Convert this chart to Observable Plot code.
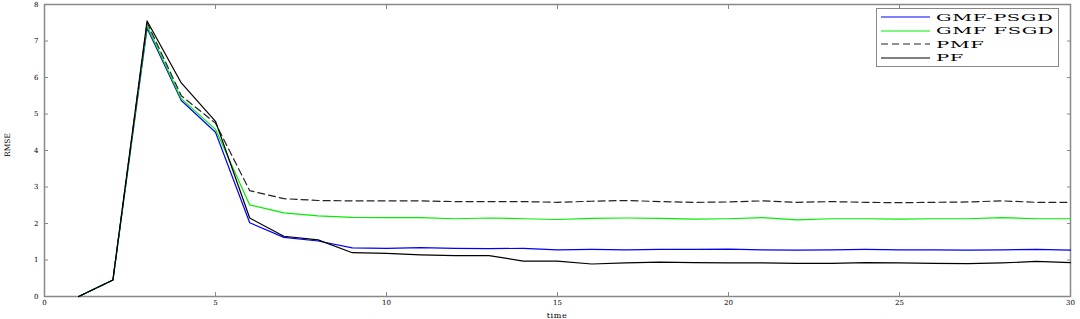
<!DOCTYPE html>
<html>
<head>
<meta charset="utf-8">
<script src="https://cdn.jsdelivr.net/npm/d3@7"></script>
<script src="https://cdn.jsdelivr.net/npm/@observablehq/plot@0.6"></script>
<style>
  body { margin: 0; background: #fff; }
  #wrap { position: relative; width: 1080px; height: 319px; }
  #legend { position: absolute; left: 876px; top: 8px; width: 181px; height: 57px;
    border: 1px solid #888; background: #fff; font-family: "DejaVu Serif", serif; font-size: 10px; }
  .row { position: absolute; left: 4px; height: 14px; display: flex; align-items: center; }
  .row svg { display: block; }
  .row span { display: inline-block; transform: scaleX(1.95); transform-origin: left center; margin-left: 5px; letter-spacing: 0.3px; color: #000; }
</style>
</head>
<body>
<div id="wrap"></div>
<script>
const time = d3.range(1, 31);
const seriesNames = ["GMF-PSGD", "GMF FSGD", "PMF", "PF"];
const gmfPsgd = [0, 0.45, 7.35, 5.37, 4.5, 2.02, 1.62, 1.52, 1.33, 1.32, 1.34, 1.32, 1.31, 1.32, 1.28, 1.29, 1.28, 1.29, 1.29, 1.3, 1.28, 1.27, 1.28, 1.29, 1.28, 1.28, 1.27, 1.28, 1.29, 1.27];
const gmfFsgd = [0, 0.45, 7.42, 5.42, 4.58, 2.51, 2.29, 2.21, 2.17, 2.16, 2.16, 2.13, 2.15, 2.13, 2.11, 2.14, 2.15, 2.14, 2.12, 2.13, 2.16, 2.1, 2.13, 2.13, 2.12, 2.13, 2.13, 2.16, 2.13, 2.13];
const pmf = [0, 0.45, 7.5, 5.5, 4.75, 2.9, 2.68, 2.63, 2.62, 2.62, 2.62, 2.6, 2.6, 2.6, 2.58, 2.61, 2.63, 2.6, 2.58, 2.59, 2.62, 2.58, 2.6, 2.58, 2.57, 2.58, 2.59, 2.62, 2.58, 2.58];
const pf = [0, 0.45, 7.55, 5.85, 4.8, 2.15, 1.65, 1.55, 1.2, 1.18, 1.14, 1.12, 1.12, 0.97, 0.97, 0.89, 0.92, 0.94, 0.93, 0.92, 0.92, 0.91, 0.91, 0.93, 0.92, 0.91, 0.9, 0.92, 0.96, 0.93];
const xTicks = [0, 5, 10, 15, 20, 25, 30];
const yTicks = [0, 1, 2, 3, 4, 5, 6, 7, 8];
const colors = ["#0000ff", "#00ee00", "#222", "#000"];
const dashes = [null, null, "7,4", null];
const allSeries = [gmfPsgd, gmfFsgd, pmf, pf];

const rows = allSeries.flatMap((vals, i) => vals.map((v, j) => ({t: time[j], v, s: seriesNames[i]})));

const lineMarks = seriesNames.map((name, i) =>
  Plot.line(rows.filter(r => r.s === name), {x: "t", y: "v", stroke: colors[i], strokeWidth: 1.2, strokeDasharray: dashes[i]})
);

const chart = Plot.plot({
  width: 1080, height: 319,
  marginLeft: 44, marginRight: 10, marginTop: 4, marginBottom: 23,
  style: {fontFamily: "DejaVu Serif, serif", fontSize: "7px", background: "#fff", overflow: "visible"},
  x: {domain: [0, 30]},
  y: {domain: [0, 8]},
  marks: [
    Plot.axisX({ticks: xTicks, tickSize: -4, stroke: "#888", tickPadding: 8, fontSize: 7, label: null}),
    Plot.axisX({ticks: xTicks, anchor: "top", tickSize: -4, stroke: "#888", tickFormat: () => "", label: null}),
    Plot.axisY({ticks: yTicks, tickSize: -4, stroke: "#888", tickPadding: 10, fontSize: 7, label: null}),
    Plot.axisY({ticks: yTicks, anchor: "right", tickSize: -4, stroke: "#888", tickFormat: () => "", label: null}),
    Plot.frame({stroke: "#888", strokeWidth: 1.5}),
    ...lineMarks
  ]
});

const wrap = document.getElementById("wrap");
wrap.appendChild(chart);

const svg = d3.select(chart);
// y label
svg.append("text")
  .attr("transform", "translate(8,145) rotate(-90)")
  .attr("text-anchor", "middle")
  .attr("dominant-baseline", "middle")
  .attr("font-family", "DejaVu Serif, serif")
  .attr("font-size", 7.5)
  .text("RMSE");
// x label
svg.append("text")
  .attr("x", 557).attr("y", 315.5)
  .attr("text-anchor", "middle")
  .attr("dominant-baseline", "middle")
  .attr("font-family", "DejaVu Serif, serif")
  .attr("font-size", 8)
  .attr("letter-spacing", 0.6)
  .text("time");

// legend
const leg = document.createElement("div");
leg.id = "legend";
seriesNames.forEach((name, i) => {
  const row = document.createElement("div");
  row.className = "row";
  row.style.top = (1 + i * 13.5) + "px";
  row.innerHTML = `<svg width="50" height="10"><line x1="0" x2="49" y1="5" y2="5" stroke="${colors[i]}" stroke-width="1.2" ${dashes[i] ? `stroke-dasharray="${dashes[i]}"` : ""}/></svg><span>${name}</span>`;
  leg.appendChild(row);
});
wrap.appendChild(leg);
</script>
</body>
</html>
